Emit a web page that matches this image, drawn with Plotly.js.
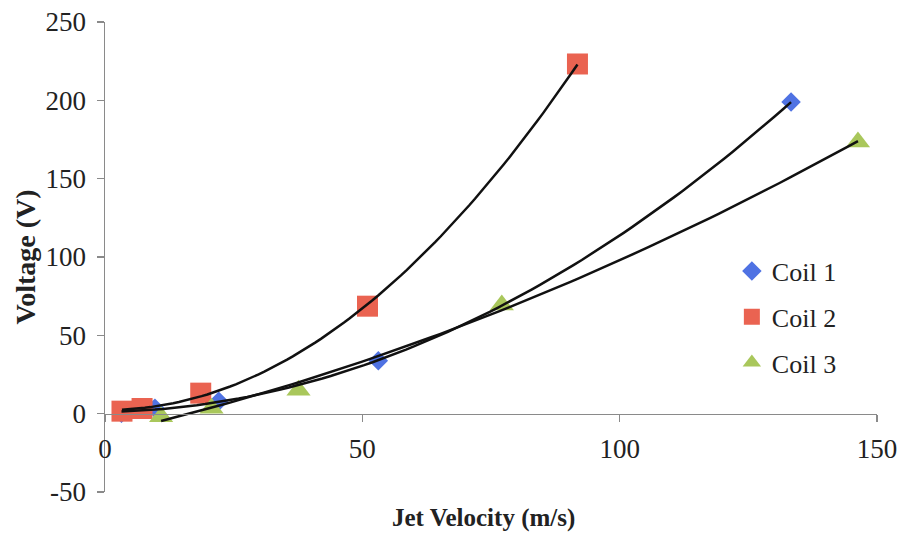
<!DOCTYPE html>
<html>
<head>
<meta charset="utf-8">
<script src="https://cdn.plot.ly/plotly-3.0.1.min.js"></script>
<style>html,body{margin:0;padding:0;background:#fff;}#chart{width:901px;height:535px;}</style>
</head>
<body>
<div id="chart"></div>
<script>
const seriesNames = ["Coil 1", "Coil 2", "Coil 3"];
const coil1X = [3.2, 9.7, 22.1, 53.1, 133.3];
const coil1Y = [0.3, 3.5, 8.0, 33.7, 198.9];
const coil2X = [3.3, 7.2, 18.6, 51.0, 91.8];
const coil2Y = [1.6, 3.3, 13.1, 68.6, 223.2];
const coil3X = [10.9, 20.7, 37.6, 77.1, 146.3];
const coil3Y = [-2.0, 3.5, 15.0, 69.3, 173.4];
const xTicks = [0, 50, 100, 150];
const yTicks = [-50, 0, 50, 100, 150, 200, 250];

const colors = ["#4F72E3", "#EA6351", "#A9C75B"];
const symbols = ["diamond", "square", "triangle-up"];
const sizes = [15, 21, 21];
const font = "Liberation Serif, Times New Roman, serif";

// quadratic least-squares trendline (like Excel polynomial order 2)
function quadFit(xs, ys) {
  let S = [0,0,0,0,0], T = [0,0,0];
  for (let i = 0; i < xs.length; i++) {
    let p = 1;
    for (let k = 0; k < 5; k++) { S[k] += p; p *= xs[i]; }
    p = 1;
    for (let k = 0; k < 3; k++) { T[k] += p * ys[i]; p *= xs[i]; }
  }
  const A = [[S[0],S[1],S[2],T[0]],[S[1],S[2],S[3],T[1]],[S[2],S[3],S[4],T[2]]];
  for (let c = 0; c < 3; c++) {
    let piv = c;
    for (let r = c+1; r < 3; r++) if (Math.abs(A[r][c]) > Math.abs(A[piv][c])) piv = r;
    [A[c], A[piv]] = [A[piv], A[c]];
    for (let r = 0; r < 3; r++) if (r !== c) {
      const f = A[r][c] / A[c][c];
      for (let k = c; k < 4; k++) A[r][k] -= f * A[c][k];
    }
  }
  return [A[0][3]/A[0][0], A[1][3]/A[1][1], A[2][3]/A[2][2]];
}
function trend(xs, ys) {
  const co = quadFit(xs, ys);
  const lo = Math.min(...xs), hi = Math.max(...xs);
  const tx = [], ty = [];
  for (let i = 0; i <= 80; i++) {
    const x = lo + (hi - lo) * i / 80;
    tx.push(x); ty.push(co[0] + co[1]*x + co[2]*x*x);
  }
  return {tx, ty};
}

const allX = [coil1X, coil2X, coil3X];
const allY = [coil1Y, coil2Y, coil3Y];
const traces = [];
for (let s = 0; s < 3; s++) {
  traces.push({
    x: allX[s], y: allY[s], type: "scatter", mode: "markers", name: seriesNames[s],
    legendgroup: "g" + s,
    marker: {color: colors[s], symbol: symbols[s], size: sizes[s], line: {width: 0}},
    cliponaxis: false
  });
}
for (let s = 0; s < 3; s++) {
  const t = trend(allX[s], allY[s]);
  traces.push({
    x: t.tx, y: t.ty, type: "scatter", mode: "lines", showlegend: false,
    line: {color: "#111", width: 2.5}, hoverinfo: "skip", cliponaxis: false
  });
}

const layout = {
  width: 901, height: 535,
  margin: {l: 105, r: 24, t: 22, b: 43},
  paper_bgcolor: "#fff", plot_bgcolor: "#fff",
  font: {family: font, color: "#222", size: 26},
  showlegend: true,
  legend: {
    x: 0.812, y: 0.52, xanchor: "left", yanchor: "top",
    font: {family: font, size: 26, color: "#222"},
    bgcolor: "rgba(0,0,0,0)", traceorder: "grouped", tracegroupgap: 9,
    itemwidth: 30
  },
  xaxis: {
    range: [0, 150], tickvals: xTicks, ticktext: xTicks.map(String),
    anchor: "free", position: 50/300,
    showline: true, linecolor: "#8a8a8a", linewidth: 1.5,
    ticks: "outside", ticklen: 7, tickcolor: "#8a8a8a", tickwidth: 1.5,
    showgrid: false, zeroline: false, ticklabelstandoff: 3,
    tickfont: {family: font, size: 27, color: "#222"}
  },
  yaxis: {
    range: [-50, 250], tickvals: yTicks, ticktext: yTicks.map(String),
    showline: true, linecolor: "#8a8a8a", linewidth: 1.5,
    ticks: "outside", ticklen: 7, tickcolor: "#8a8a8a", tickwidth: 1.5,
    showgrid: false, zeroline: false, ticklabelstandoff: 5,
    tickfont: {family: font, size: 27, color: "#222"}
  },
  annotations: [
    {text: "<b>Jet Velocity (m/s)</b>", xref: "paper", yref: "paper",
     x: 0.49, y: -0.056, xanchor: "center", yanchor: "middle", showarrow: false,
     font: {family: font, size: 25, color: "#222"}},
    {text: "<b>Voltage (V)</b>", xref: "paper", yref: "paper",
     x: -0.103, y: 0.5, xanchor: "center", yanchor: "middle", showarrow: false,
     textangle: -90, font: {family: font, size: 28, color: "#222"}}
  ]
};

Plotly.newPlot("chart", traces, layout, {displayModeBar: false, staticPlot: true});
</script>
</body>
</html>
